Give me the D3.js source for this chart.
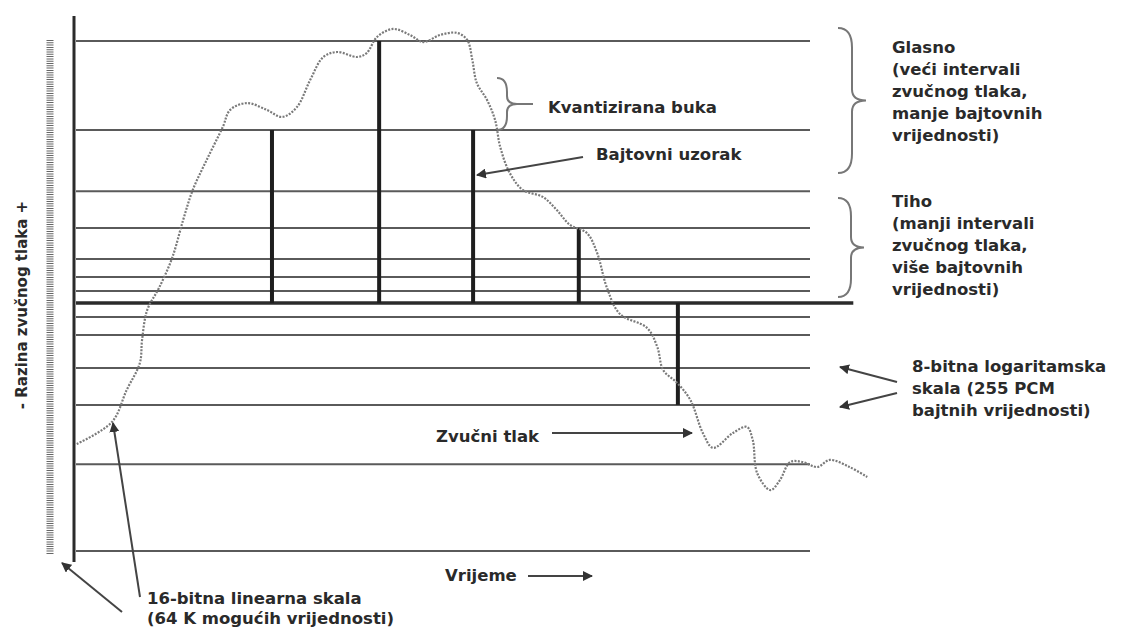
<!DOCTYPE html>
<html lang="hr">
<head>
    <meta charset="UTF-8">
    <title>Razina zvučnog tlaka</title>
    <script src="https://d3js.org/d3.v7.min.js"></script>
    <style>
        body { margin: 0; background: #fff; }
        text { font-family: "DejaVu Sans", sans-serif; font-weight: bold; font-size: 16.5px; fill: #2a2a2a; }
        text.axis-label { font-size: 15px; }
    </style>
</head>
<body>
    <svg width=1124 height=630></svg>
</body>

<script>

    // quantisation levels (8-bit log scale), sound pressure units
    var levels = [100, 66, 42.7, 28.6, 16.8, 9.9, 4.6, 0, -5.3, -12.2, -24.8, -38.9, -61.5, -94.7]

    // byte samples
    var sampleTimes = [26.7, 41.3, 54.1, 68.5, 82.0]
    var sampleLevels = [66, 100, 66, 28.6, -38.9]

    // sound pressure wave (dotted curve)
    var waveTime = [0.1, 4.9, 6.9, 8.7, 9.0, 9.7, 11.3, 13.1, 14.6, 15.9, 17.8, 20.0, 21.0, 23.3, 26.0, 28.1,
        30.1, 31.9, 33.7, 35.6, 38.3, 39.6, 41.0, 43.2, 45.5, 47.3, 49.6, 51.9, 53.3, 54.0, 54.6, 56.0,
        57.1, 57.8, 59.1, 60.9, 63.6, 65.5, 67.3, 69.6, 71.0, 72.3, 74.1, 77.8, 79.2, 80.0, 81.9, 83.7,
        85.4, 86.8, 89.5, 91.4, 92.2, 92.8, 94.6, 95.9, 97.3, 99.0, 101.0, 102.7, 105.4, 107.8]
    var waveLevel = [-53.8, -45.4, -33.2, -22.9, -14.1, -2.7, 5.7, 17.2, 31.7, 43.1, 54.6, 67.2, 73.7, 76.3, 73.7, 71.0,
        74.8, 85.1, 93.9, 95.8, 93.9, 95.4, 101.5, 104.6, 102.3, 99.6, 102.3, 103.1, 100.4, 92.7, 84.0, 77.5,
        69.8, 59.5, 49.6, 43.1, 40.5, 35.5, 29.8, 26.7, 19.1, 6.1, -4.2, -9.5, -16.8, -25.6, -30.5, -37.0,
        -49.6, -55.3, -49.6, -47.3, -52.3, -64.9, -71.4, -67.6, -60.7, -60.7, -62.6, -59.9, -62.6, -66.4]

    var x = d3.scaleLinear().domain([0, 100]).range([76, 810])
    var y = d3.scaleLinear().domain([-100, 100]).range([565, 41])

    var svg = d3.select('svg')

    var defs = svg.append('defs')
    defs.append('marker')
        .attr('id', 'arr')
        .attr('viewBox', '0 0 10 10')
        .attr('refX', 9).attr('refY', 5)
        .attr('markerWidth', 5).attr('markerHeight', 5)
        .attr('markerUnits', 'strokeWidth')
        .attr('orient', 'auto')
        .append('path')
        .attr('d', 'M0,0 L10,5 L0,10 Z')
        .attr('fill', '#333')

    // level lines
    svg.append('g').selectAll('line')
        .data(levels)
        .join('line')
        .attr('x1', x(0))
        .attr('x2', d => d === 0 ? x(105.9) : x(100))
        .attr('y1', d => y(d))
        .attr('y2', d => y(d))
        .attr('stroke', d => d === 0 ? '#2b2b2b' : '#5a5a5a')
        .attr('stroke-width', d => d === 0 ? 3.5 : 2)

    // left axis + hatched 16-bit scale
    svg.append('line')
        .attr('x1', 74).attr('x2', 74)
        .attr('y1', 16).attr('y2', 562)
        .attr('stroke', '#2b2b2b').attr('stroke-width', 3)

    svg.append('line')
        .attr('x1', 50).attr('x2', 50)
        .attr('y1', 40).attr('y2', 554)
        .attr('stroke', '#666').attr('stroke-width', 7)
        .attr('stroke-dasharray', '1,1.3')

    // byte samples
    svg.append('g').selectAll('line')
        .data(sampleTimes)
        .join('line')
        .attr('x1', d => x(d)).attr('x2', d => x(d))
        .attr('y1', y(0))
        .attr('y2', (d, i) => y(sampleLevels[i]))
        .attr('stroke', '#1e1e1e')
        .attr('stroke-width', 4)

    // wave
    var line = d3.line()
        .x(d => x(d[0]))
        .y(d => y(d[1]))
        .curve(d3.curveCatmullRom)

    svg.append('path')
        .datum(waveTime.map((t, i) => [t, waveLevel[i]]))
        .attr('d', line)
        .attr('fill', 'none')
        .attr('stroke', '#7a7a7a')
        .attr('stroke-width', 2.2)
        .attr('stroke-dasharray', '2,1.4')

    // braces
    function brace(bx, y1, y2, w) {
        var m = (y1 + y2) / 2, q = w / 2
        return `M${bx},${y1} Q${bx + q},${y1} ${bx + q},${y1 + q * 1.4} L${bx + q},${m - q * 0.8}`
            + ` Q${bx + q},${m} ${bx + w},${m} Q${bx + q},${m} ${bx + q},${m + q * 0.8}`
            + ` L${bx + q},${y2 - q * 1.4} Q${bx + q},${y2} ${bx},${y2}`
    }

    svg.append('path').attr('d', brace(838, 28, 173, 28))
        .attr('fill', 'none').attr('stroke', '#777').attr('stroke-width', 2)
    svg.append('path').attr('d', brace(838, 198, 297, 26))
        .attr('fill', 'none').attr('stroke', '#777').attr('stroke-width', 2)
    svg.append('path').attr('d', brace(497, 78, 130, 20))
        .attr('fill', 'none').attr('stroke', '#777').attr('stroke-width', 2)
    svg.append('line').attr('x1', 517).attr('x2', 533).attr('y1', 104).attr('y2', 104)
        .attr('stroke', '#777').attr('stroke-width', 2)

    // arrows
    var arrows = [
        [583, 157, 477, 175],
        [897, 382, 840, 367],
        [897, 393, 840, 407],
        [552, 433, 692, 433],
        [528, 576, 592, 576],
        [140, 597, 113, 423],
        [122, 612, 62, 563]
    ]
    svg.append('g').selectAll('line')
        .data(arrows)
        .join('line')
        .attr('x1', d => d[0]).attr('y1', d => d[1])
        .attr('x2', d => d[2]).attr('y2', d => d[3])
        .attr('stroke', '#444')
        .attr('stroke-width', 2)
        .attr('marker-end', 'url(#arr)')

    // labels
    function block(x0, y0, lines, gap) {
        var t = svg.append('text').attr('x', x0).attr('y', y0)
        lines.forEach((s, i) => {
            t.append('tspan').attr('x', x0).attr('dy', i ? (gap || 22) : 0).text(s)
        })
    }

    block(548, 113, ['Kvantizirana buka'])
    block(596, 160, ['Bajtovni uzorak'])
    block(892, 53, ['Glasno', '(veći intervali', 'zvučnog tlaka,', 'manje bajtovnih', 'vrijednosti)'])
    block(892, 207, ['Tiho', '(manji intervali', 'zvučnog tlaka,', 'više bajtovnih', 'vrijednosti)'])
    block(912, 372, ['8-bitna logaritamska', 'skala (255 PCM', 'bajtnih vrijednosti)'])
    block(436, 442, ['Zvučni tlak'])
    block(445, 581, ['Vrijeme'])
    block(147, 604, ['16-bitna linearna skala', '(64 K mogućih vrijednosti)'], 20)

    svg.append('text')
        .attr('class', 'axis-label')
        .attr('text-anchor', 'middle')
        .attr('transform', 'translate(27,305) rotate(-90)')
        .text('- Razina zvučnog tlaka +')

</script>
</html>
